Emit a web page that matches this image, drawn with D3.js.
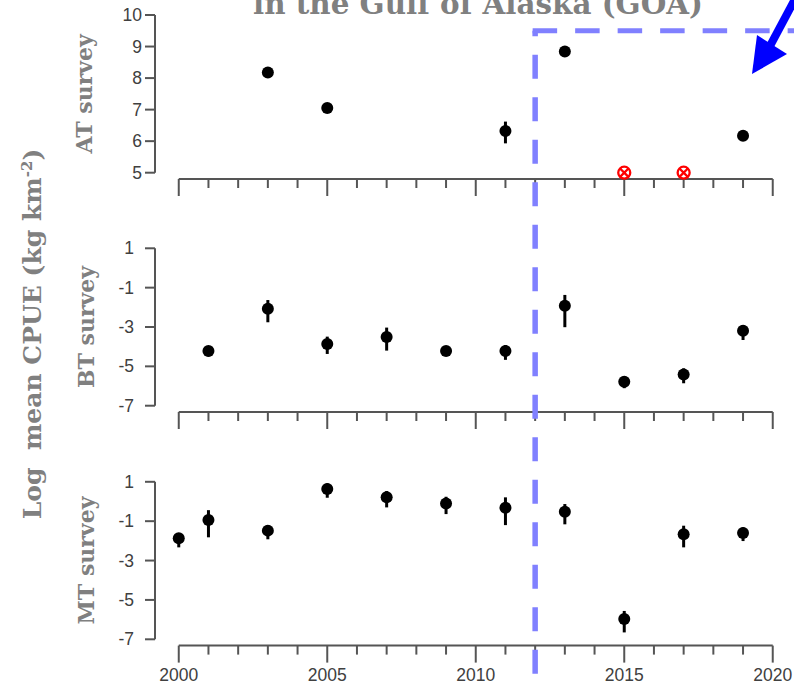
<!DOCTYPE html>
<html>
<head>
<meta charset="utf-8">
<script src="https://cdn.jsdelivr.net/npm/d3@7"></script>
<style>
  html, body { margin: 0; padding: 0; background: #fff; }
  svg { display: block; }
  .tick-label { font-family: "Liberation Sans", Arial, sans-serif; font-size: 17.5px; fill: #404040; }
  .grey-label { font-family: "DejaVu Serif", "Liberation Serif", serif; font-weight: bold; fill: #808080; }
</style>
</head>
<body>
<svg id="chart"></svg>
<script>
// Survey years and estimates (log mean CPUE)
const atYears = [2003, 2005, 2011, 2013, 2019];
const atMean  = [8.18, 7.05, 6.32, 8.84, 6.17];
const atLo    = [8.10, 6.97, 5.93, 8.76, 6.09];
const atHi    = [8.26, 7.13, 6.62, 8.92, 6.25];
const atZeroYears = [2015, 2017];   // surveys with no catch (red symbols)

const btYears = [2001, 2003, 2005, 2007, 2009, 2011, 2013, 2015, 2017, 2019];
const btMean  = [-4.22, -2.07, -3.86, -3.51, -4.22, -4.22, -1.92, -5.78, -5.42, -3.19];
const btLo    = [-4.49, -2.76, -4.37, -4.20, -4.30, -4.67, -3.01, -6.11, -5.86, -3.66];
const btHi    = [-3.98, -1.63, -3.49, -3.03, -4.10, -3.92, -1.37, -5.52, -5.10, -2.90];

const mtYears = [2000, 2001, 2003, 2005, 2007, 2009, 2011, 2013, 2015, 2017, 2019];
const mtMean  = [-1.87, -0.94, -1.48, 0.63, 0.21, -0.10, -0.32, -0.52, -5.97, -1.67, -1.60];
const mtLo    = [-2.33, -1.82, -1.92, 0.19, -0.30, -0.64, -1.20, -1.16, -6.65, -2.33, -2.01];
const mtHi    = [-1.65, -0.44, -1.20, 0.92, 0.53, 0.24, 0.21, -0.13, -5.56, -1.23, -1.31];

const atTicks = [5, 6, 7, 8, 9, 10];
const logTicks = [1, -1, -3, -5, -7];
const yearMajor = [2000, 2005, 2010, 2015, 2020];
const breakYear = 2012;

const W = 794, H = 689;
const svg = d3.select('#chart').attr('width', W).attr('height', H);

const x = d3.scaleLinear().domain([1999.2, 2020.8]).range([155, 796.5]);

const panels = [
    { name: 'AT survey', years: atYears, mean: atMean, lo: atLo, hi: atHi,
      y: d3.scaleLinear().domain([4.8, 10.2]).range([179, 8.7]), ticks: atTicks, labelX: 142, nameX: 84, showYears: false },
    { name: 'BT survey', years: btYears, mean: btMean, lo: btLo, hi: btHi,
      y: d3.scaleLinear().domain([-7.32, 1.32]).range([412, 242]), ticks: logTicks, labelX: 134, nameX: 86, showYears: false },
    { name: 'MT survey', years: mtYears, mean: mtMean, lo: mtLo, hi: mtHi,
      y: d3.scaleLinear().domain([-7.32, 1.32]).range([645.6, 475.5]), ticks: logTicks, labelX: 134, nameX: 86, showYears: true },
];

const axisColor = '#555';
const allYears = d3.range(2000, 2021);

panels.forEach(p => {
    const g = svg.append('g');
    const yMin = d3.min(p.ticks), yMax = d3.max(p.ticks);
    const base = p.y.range()[0];

    // y axis (R style: line only between the extreme ticks)
    g.append('line')
        .attr('x1', 155).attr('x2', 155)
        .attr('y1', p.y(yMin)).attr('y2', p.y(yMax))
        .attr('stroke', axisColor).attr('stroke-width', 2);
    g.selectAll('.ytick').data(p.ticks).join('line')
        .attr('x1', 145).attr('x2', 155)
        .attr('y1', d => p.y(d)).attr('y2', d => p.y(d))
        .attr('stroke', axisColor).attr('stroke-width', 2);
    g.selectAll('.ylab').data(p.ticks).join('text')
        .attr('class', 'tick-label')
        .attr('x', p.labelX).attr('y', d => p.y(d)).attr('dy', '0.35em')
        .attr('text-anchor', 'end')
        .text(d => d);

    // x axis
    g.append('line')
        .attr('x1', x(2000)).attr('x2', x(2020))
        .attr('y1', base).attr('y2', base)
        .attr('stroke', axisColor).attr('stroke-width', 2);
    g.selectAll('.xtick').data(allYears).join('line')
        .attr('x1', d => x(d)).attr('x2', d => x(d))
        .attr('y1', base).attr('y2', d => base + (yearMajor.includes(d) ? 17 : 9))
        .attr('stroke', axisColor).attr('stroke-width', 2);
    if (p.showYears) {
        g.selectAll('.xlab').data(yearMajor).join('text')
            .attr('class', 'tick-label')
            .attr('x', d => x(d)).attr('y', base + 35)
            .attr('text-anchor', 'middle')
            .text(d => d);
    }

    // panel label
    const cy = (p.y(yMin) + p.y(yMax)) / 2;
    g.append('text')
        .attr('class', 'grey-label')
        .attr('transform', `translate(${p.nameX},${cy}) rotate(-90)`)
        .attr('text-anchor', 'middle').attr('dy', '0.35em')
        .style('font-size', '22px')
        .text(p.name);

    // error bars + points
    g.selectAll('.err').data(p.years).join('line')
        .attr('x1', d => x(d)).attr('x2', d => x(d))
        .attr('y1', (d, i) => p.y(p.lo[i])).attr('y2', (d, i) => p.y(p.hi[i]))
        .attr('stroke', '#000').attr('stroke-width', 3);
    g.selectAll('.pt').data(p.years).join('circle')
        .attr('cx', d => x(d)).attr('cy', (d, i) => p.y(p.mean[i]))
        .attr('r', 6).attr('fill', '#000');
});

// zero-catch markers in the AT panel
const at = panels[0];
const zg = svg.append('g').attr('stroke', '#ff0000').attr('stroke-width', 2.3).attr('fill', 'none');
atZeroYears.forEach(yr => {
    const cx = x(yr), cy = at.y(5);
    zg.append('circle').attr('cx', cx).attr('cy', cy).attr('r', 6);
    zg.append('path').attr('d', `M${cx - 4.2},${cy - 4.2}L${cx + 4.2},${cy + 4.2}M${cx - 4.2},${cy + 4.2}L${cx + 4.2},${cy - 4.2}`);
});

// y title
svg.append('text')
    .attr('class', 'grey-label')
    .attr('transform', 'translate(32,334) rotate(-90)')
    .attr('text-anchor', 'middle').attr('dy', '0.35em')
    .style('font-size', '25px')
    .html('Log&#160;&#160;mean CPUE (kg km<tspan dy="-9" font-size="15px">-2</tspan><tspan dy="9">)</tspan>');

// title (top line is cut off in the original)
svg.append('text')
    .attr('class', 'grey-label')
    .attr('x', 478).attr('y', 14)
    .attr('text-anchor', 'middle')
    .style('font-size', '29px')
    .attr('textLength', 450).attr('lengthAdjust', 'spacingAndGlyphs')
    .text('in the Gulf of Alaska (GOA)');

// dashed box marking the post-2012 period
const bx = x(breakYear), by = at.y(9.5);
svg.append('line')
    .attr('x1', bx).attr('x2', bx).attr('y1', by).attr('y2', H + 10)
    .attr('stroke', '#8080ff').attr('stroke-width', 5.5)
    .attr('stroke-dasharray', '24 18.5').attr('stroke-dashoffset', 18.5);
svg.append('line')
    .attr('x1', bx - 2.5).attr('x2', W + 10).attr('y1', by).attr('y2', by)
    .attr('stroke', '#8080ff').attr('stroke-width', 5)
    .attr('stroke-dasharray', '24.5 18');

// blue arrow pointing into the box
svg.append('line')
    .attr('x1', 802).attr('y1', -14).attr('x2', 770).attr('y2', 46)
    .attr('stroke', '#0000ff').attr('stroke-width', 8);
svg.append('path')
    .attr('d', 'M752,74L757,35L787,54Z')
    .attr('fill', '#0000ff');
</script>
</body>
</html>
